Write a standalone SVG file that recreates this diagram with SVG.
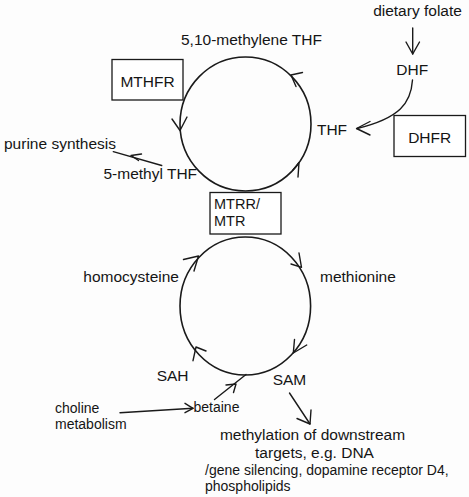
<svg xmlns="http://www.w3.org/2000/svg" width="469" height="497" viewBox="0 0 469 497">
<style>
text{font-family:"Liberation Sans",Arial,sans-serif;font-size:15.5px;fill:#151515}
.sm{font-size:14px}
.box{fill:#fff;stroke:#1a1a1a;stroke-width:1.3}
.ln{fill:none;stroke:#1a1a1a;stroke-width:1.4;stroke-linecap:round;stroke-linejoin:round}
.cyc{fill:none;stroke:#1a1a1a;stroke-width:1.6}
</style>
<rect width="469" height="497" fill="#fdfdfd"/>
<g id="connectors">
  <ellipse class="cyc" cx="245.5" cy="124" rx="65.5" ry="67"/>
  <ellipse class="cyc" cx="245.3" cy="306" rx="65.3" ry="69"/>
  <polyline class="ln" points="302.5,72.5 291,75 296,86.5"/>
  <polyline class="ln" points="172,119 180,130.5 187,117"/>
  <polyline class="ln" points="293,170 299,162.5 298,177"/>
  <polyline class="ln" points="183.5,259.5 198.5,256 194,271"/>
  <polyline class="ln" points="299,253 301.5,267.3 291,264"/>
  <polyline class="ln" points="294.5,339.5 293.3,353 306.7,345"/>
  <polyline class="ln" points="193,360.7 196,347 206,351"/>
  <line class="ln" x1="412.7" y1="28" x2="412.7" y2="54"/>
  <polyline class="ln" points="406,42 412.7,54 419.5,42"/>
  <path class="ln" d="M412.5,80 C411,103 400,118 357,128.5"/>
  <polyline class="ln" points="370,121.5 356.5,128.5 370,135"/>
  <line class="ln" x1="161.7" y1="165.5" x2="113.3" y2="151.7"/>
  <polyline class="ln" points="141.5,154 131,155.5 138.5,160.5"/>
  <line class="ln" x1="120" y1="412.7" x2="193" y2="408.3"/>
  <polyline class="ln" points="185,403.3 193,408.3 185,412.7"/>
  <line class="ln" x1="214.5" y1="399.5" x2="246" y2="374.5"/>
  <polyline class="ln" points="226,385 236,384 233.5,392.5"/>
  <line class="ln" x1="289.5" y1="393" x2="310" y2="424"/>
  <polyline class="ln" points="297,418.5 310,424 311,410"/>
</g>
<g id="n-methyleneTHF"><text x="251.5" y="45" text-anchor="middle">5,10-methylene THF</text></g>
<g id="n-folate"><text x="417.5" y="15.5" text-anchor="middle">dietary folate</text></g>
<g id="n-DHF"><text x="412.2" y="74.5" text-anchor="middle">DHF</text></g>
<g id="n-THF"><text x="332" y="135" text-anchor="middle">THF</text></g>
<g id="n-DHFR"><rect class="box" x="394" y="115.5" width="71.5" height="41"/><text x="429.7" y="142.5" text-anchor="middle">DHFR</text></g>
<g id="n-MTHFR"><rect class="box" x="112" y="59.5" width="71" height="40.5"/><text x="147.5" y="86.5" text-anchor="middle">MTHFR</text></g>
<g id="n-purine"><text x="4" y="149">purine synthesis</text></g>
<g id="n-5methylTHF"><text x="103.5" y="178.5">5-methyl THF</text></g>
<g id="n-MTRR"><rect class="box" x="210" y="192.5" width="71" height="41.5"/><text x="214" y="208.5" style="font-size:14.5px">MTRR/</text><text x="214" y="225.5" style="font-size:14.5px">MTR</text></g>
<g id="n-homocysteine"><text x="83.3" y="282.3">homocysteine</text></g>
<g id="n-methionine"><text x="320" y="281.7">methionine</text></g>
<g id="n-SAH"><text x="156.7" y="380.7">SAH</text></g>
<g id="n-SAM"><text x="272.7" y="385">SAM</text></g>
<g id="n-choline"><text class="sm" x="55" y="413">choline</text><text class="sm" x="55" y="428.5">metabolism</text></g>
<g id="n-betaine"><text class="sm" x="193.5" y="412">betaine</text></g>
<g id="n-methylation">
  <text x="312.5" y="440" text-anchor="middle">methylation of downstream</text>
  <text x="314.5" y="458" text-anchor="middle">targets, e.g. DNA</text>
  <text class="sm" x="205" y="474.6">/gene silencing, dopamine receptor D4,</text>
  <text class="sm" x="205" y="490.5">phospholipids</text>
</g>
</svg>
